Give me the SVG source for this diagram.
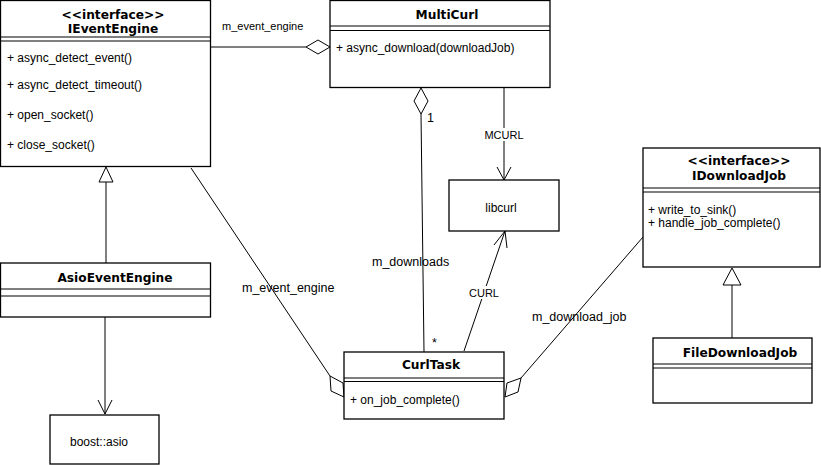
<svg xmlns="http://www.w3.org/2000/svg" width="821" height="465" viewBox="0 0 821 465">
<style>
.box{fill:#fff;stroke:#000;stroke-width:1.3}
.sep{stroke:#000;stroke-width:1.2}
.t{font-family:"DejaVu Sans",sans-serif;font-weight:bold;font-size:12.2px;text-anchor:middle;fill:#000}
.m{font-family:"Liberation Sans",Arial,sans-serif;font-size:12px;fill:#000}
.l{font-family:"Liberation Sans",Arial,sans-serif;font-size:11px;fill:#000}
.lb{font-family:"Liberation Sans",Arial,sans-serif;font-size:12.5px;fill:#000}
.c{text-anchor:middle}
.ln{stroke:#000;stroke-width:1;fill:none}
.hd{fill:#fff;stroke:#000;stroke-width:1}
</style>
<rect width="821" height="465" fill="#fff"/>
<g id="connectors">
  <line class="ln" x1="210" y1="47" x2="306" y2="47"/>
  <polygon class="hd" points="306,47 318,40 330,47 318,54"/>
  <text class="l" x="222" y="30">m_event_engine</text>
  <line class="ln" x1="421" y1="114" x2="424" y2="352" stroke="#333"/>
  <polygon class="hd" points="421,88 428,101 421,114 414,101"/>
  <text class="lb" x="427" y="122">1</text>
  <text class="lb" x="432" y="347">*</text>
  <text class="lb" x="372" y="266">m_downloads</text>
  <line class="ln" x1="504" y1="88" x2="504" y2="180"/>
  <polyline class="ln" points="497,167 504,180 511,167"/>
  <rect x="483" y="128" width="42" height="13" fill="#fff"/>
  <text class="l c" x="504" y="139">MCURL</text>
  <line class="ln" x1="464" y1="351" x2="505" y2="231"/>
  <polyline class="ln" points="494,245 505,231 507,248"/>
  <rect x="468" y="286" width="32" height="13" fill="#fff"/>
  <text class="l c" x="484" y="297">CURL</text>
  <line class="ln" x1="106" y1="182" x2="106" y2="263"/>
  <polygon class="hd" points="106,167 113,182 99,182"/>
  <line class="ln" x1="105" y1="317" x2="105" y2="414"/>
  <polyline class="ln" points="98,400 105,414 112,400"/>
  <line class="ln" x1="191" y1="168" x2="330" y2="376"/>
  <polygon class="hd" points="330,376 343,383 344,397 331,391"/>
  <text class="lb" x="242" y="292">m_event_engine</text>
  <line class="ln" x1="643" y1="237" x2="521" y2="378"/>
  <polygon class="hd" points="521,378 518,392 505,397 507,383"/>
  <text class="lb" x="532" y="321">m_download_job</text>
  <line class="ln" x1="732" y1="285" x2="732" y2="338"/>
  <polygon class="hd" points="732,268 741,285 723,285"/>
</g>
<g id="IEventEngine">
  <rect class="box" x="0.5" y="0.5" width="210" height="166"/>
  <line class="sep" x1="0" y1="37" x2="210" y2="37"/>
  <line class="sep" x1="0" y1="41" x2="210" y2="41"/>
  <text class="t" x="113" y="19">&lt;&lt;interface&gt;&gt;</text>
  <text class="t" x="113" y="33">IEventEngine</text>
  <text class="m" x="7" y="62">+ async_detect_event()</text>
  <text class="m" x="7" y="89">+ async_detect_timeout()</text>
  <text class="m" x="7" y="119">+ open_socket()</text>
  <text class="m" x="7" y="149">+ close_socket()</text>
</g>
<g id="MultiCurl">
  <rect class="box" x="330" y="0.5" width="220" height="87"/>
  <line class="sep" x1="330" y1="26" x2="550" y2="26"/>
  <line class="sep" x1="330" y1="30.5" x2="550" y2="30.5"/>
  <text class="t" x="447" y="19">MultiCurl</text>
  <text class="m" x="336" y="52">+ async_download(downloadJob)</text>
</g>
<g id="libcurl">
  <rect class="box" x="449" y="180" width="110" height="51"/>
  <text class="m c" x="501" y="212">libcurl</text>
</g>
<g id="IDownloadJob">
  <rect class="box" x="643" y="148" width="177" height="119"/>
  <line class="sep" x1="643" y1="188" x2="820" y2="188"/>
  <line class="sep" x1="643" y1="192" x2="820" y2="192"/>
  <text class="t" x="739" y="165">&lt;&lt;interface&gt;&gt;</text>
  <text class="t" x="739" y="180">IDownloadJob</text>
  <text class="m" x="648" y="214">+ write_to_sink()</text>
  <text class="m" x="648" y="227">+ handle_job_complete()</text>
</g>
<g id="FileDownloadJob">
  <rect class="box" x="653" y="338" width="159" height="65"/>
  <line class="sep" x1="653" y1="364" x2="812" y2="364"/>
  <line class="sep" x1="653" y1="368" x2="812" y2="368"/>
  <text class="t" x="740" y="357">FileDownloadJob</text>
</g>
<g id="AsioEventEngine">
  <rect class="box" x="0.5" y="263" width="210" height="54"/>
  <line class="sep" x1="0" y1="289" x2="210" y2="289"/>
  <line class="sep" x1="0" y1="296" x2="210" y2="296"/>
  <text class="t" x="115" y="282">AsioEventEngine</text>
</g>
<g id="boost_asio">
  <rect class="box" x="50" y="415" width="109" height="49"/>
  <text class="m c" x="99" y="446">boost::asio</text>
</g>
<g id="CurlTask">
  <rect class="box" x="344" y="352" width="160" height="67"/>
  <line class="sep" x1="344" y1="378" x2="504" y2="378"/>
  <line class="sep" x1="344" y1="381.5" x2="504" y2="381.5"/>
  <text class="t" x="431" y="369">CurlTask</text>
  <text class="m" x="350" y="404">+ on_job_complete()</text>
</g>
</svg>
